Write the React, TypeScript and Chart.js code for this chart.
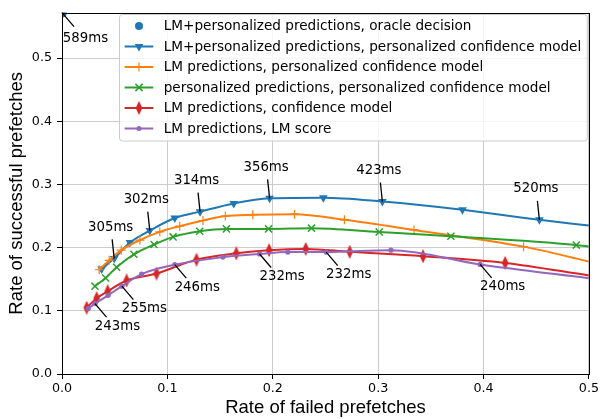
import React, { useEffect, useRef } from "react";
import { Chart, registerables } from "chart.js";
Chart.register(...registerables);

// ---------- data ----------
const seriesLabels = [
  "LM+personalized predictions, oracle decision",
  "LM+personalized predictions, personalized confidence model",
  "LM predictions, personalized confidence model",
  "personalized predictions, personalized confidence model",
  "LM predictions, confidence model",
  "LM predictions, LM score",
];

const oracleX = [0.0];
const oracleY = [0.572];

const blueX = [0.0376, 0.0495, 0.0644, 0.0833, 0.107, 0.131, 0.163, 0.197, 0.248, 0.304, 0.38, 0.453, 0.5];
const blueY = [0.166, 0.183, 0.208, 0.227, 0.247, 0.257, 0.27, 0.278, 0.279, 0.273, 0.26, 0.244, 0.235];

const orangeX = [0.0353, 0.0448, 0.0562, 0.0739, 0.0928, 0.1117, 0.1338, 0.155, 0.181, 0.2206, 0.268, 0.334, 0.438, 0.5];
const orangeY = [0.165, 0.18, 0.196, 0.212, 0.225, 0.234, 0.243, 0.25, 0.252, 0.253, 0.244, 0.228, 0.2016, 0.178];

const greenX = [0.0313, 0.0414, 0.0518, 0.0682, 0.0874, 0.1054, 0.1307, 0.156, 0.196, 0.2367, 0.301, 0.369, 0.488, 0.5];
const greenY = [0.139, 0.152, 0.169, 0.1895, 0.205, 0.217, 0.226, 0.2297, 0.2297, 0.2308, 0.2247, 0.218, 0.204, 0.2016];

const redX = [0.0234, 0.0329, 0.0433, 0.0613, 0.0897, 0.1276, 0.1654, 0.1965, 0.2313, 0.273, 0.3426, 0.4205, 0.5];
const redY = [0.105, 0.12, 0.131, 0.148, 0.159, 0.181, 0.191, 0.196, 0.198, 0.1934, 0.1864, 0.1758, 0.156];

const purpleX = [0.0249, 0.0313, 0.0438, 0.0568, 0.0755, 0.107, 0.1527, 0.1875, 0.2143, 0.2507, 0.3122, 0.3968, 0.5];
const purpleY = [0.1036, 0.1114, 0.1245, 0.139, 0.158, 0.173, 0.185, 0.19, 0.193, 0.193, 0.196, 0.1734, 0.1516];

const xTicks = [0, 0.1, 0.2, 0.3, 0.4, 0.5];
const yTicks = [0, 0.1, 0.2, 0.3, 0.4, 0.5];

const annotationLabels = ["589ms", "305ms", "302ms", "314ms", "356ms", "423ms", "520ms", "243ms", "255ms", "246ms", "232ms", "232ms", "240ms"];
const annotationSeries = [0, 1, 1, 1, 1, 1, 1, 5, 5, 5, 5, 5, 5];
const annotationIndex = [0, 1, 3, 5, 7, 9, 11, 1, 3, 5, 7, 9, 11];

// ---------- styles ----------
const COLORS = ["#1f77b4", "#1f77b4", "#ff7f0e", "#2ca02c", "#d62728", "#9467bd"];
const TICK_FONT = "DejaVu Sans";
const TITLE_FONT = "Liberation Sans";

// annotation layout: text-center offset from point, arrow-start offset from text center
const annotationLayout: Record<string, { dx: number; dy: number; ax: number; ay: number }> = {
  corner: { dx: 23.5, dy: 26, ax: -11.5, ay: -12 },
  above: { dx: -3.5, dy: -31, ax: 1.5, ay: 12 },
  below: { dx: 22.5, dy: 22.5, ax: -11, ay: -9 },
};
const layoutForSeries = (s: number) => (s === 0 ? "corner" : s === 1 ? "above" : "below");

function makeThinDiamond(color: string) {
  const c = document.createElement("canvas");
  c.width = 8;
  c.height = 14;
  const g = c.getContext("2d")!;
  g.fillStyle = color;
  g.beginPath();
  g.moveTo(4, 0);
  g.lineTo(7.3, 7);
  g.lineTo(4, 14);
  g.lineTo(0.7, 7);
  g.closePath();
  g.fill();
  return c;
}

function drawMarker(ctx: CanvasRenderingContext2D, kind: number, x: number, y: number, diamond: HTMLCanvasElement) {
  const col = COLORS[kind];
  ctx.save();
  ctx.fillStyle = col;
  ctx.strokeStyle = col;
  if (kind === 0) {
    ctx.beginPath();
    ctx.arc(x, y, 4, 0, Math.PI * 2);
    ctx.fill();
  } else if (kind === 1) {
    const r = 5;
    ctx.beginPath();
    ctx.moveTo(x, y + r);
    ctx.lineTo(x - r * 0.866, y - r * 0.5);
    ctx.lineTo(x + r * 0.866, y - r * 0.5);
    ctx.closePath();
    ctx.fill();
  } else if (kind === 2) {
    ctx.lineWidth = 1.2;
    ctx.beginPath();
    ctx.moveTo(x - 4.5, y);
    ctx.lineTo(x + 4.5, y);
    ctx.moveTo(x, y - 4.5);
    ctx.lineTo(x, y + 4.5);
    ctx.stroke();
  } else if (kind === 3) {
    ctx.lineWidth = 1.5;
    const d = 3.6;
    ctx.beginPath();
    ctx.moveTo(x - d, y - d);
    ctx.lineTo(x + d, y + d);
    ctx.moveTo(x - d, y + d);
    ctx.lineTo(x + d, y - d);
    ctx.stroke();
  } else if (kind === 4) {
    ctx.drawImage(diamond, x - diamond.width / 2, y - diamond.height / 2);
  } else {
    ctx.beginPath();
    ctx.arc(x, y, 2.5, 0, Math.PI * 2);
    ctx.fill();
  }
  ctx.restore();
}

export default function App() {
  const ref = useRef<HTMLCanvasElement | null>(null);

  useEffect(() => {
    if (!ref.current) return;
    const diamond = makeThinDiamond(COLORS[4]);
    const mk = (xs: number[], ys: number[]) => xs.map((x, i) => ({ x, y: ys[i] }));
    const lastZero = (r: number) => (c: any) => (c.dataIndex === c.dataset.data.length - 1 ? 0 : r);

    const allX = [oracleX, blueX, orangeX, greenX, redX, purpleX];
    const allY = [oracleY, blueY, orangeY, greenY, redY, purpleY];

    const overlay = {
      id: "overlay",
      afterDraw(chart: any) {
        const { ctx, chartArea: a, scales } = chart;
        const xs = scales.x;
        const ys = scales.y;
        ctx.save();
        // spines
        ctx.strokeStyle = "#000";
        ctx.lineWidth = 1;
        ctx.strokeRect(Math.round(a.left) + 0.5, Math.round(a.top) + 0.5, Math.round(a.right - a.left), Math.round(a.bottom - a.top));

        // annotations
        ctx.font = `13.3px "${TICK_FONT}"`;
        ctx.fillStyle = "#000";
        ctx.textAlign = "center";
        ctx.textBaseline = "middle";
        annotationLabels.forEach((lab, k) => {
          const s = annotationSeries[k];
          const i = annotationIndex[k];
          const px = xs.getPixelForValue(allX[s][i]);
          const py = ys.getPixelForValue(allY[s][i]);
          const L = annotationLayout[layoutForSeries(s)];
          const tx = px + L.dx;
          const ty = py + L.dy;
          ctx.fillText(lab, tx, ty);
          ctx.beginPath();
          ctx.lineWidth = 1.3;
          ctx.strokeStyle = "#000";
          ctx.moveTo(tx + L.ax, ty + L.ay);
          ctx.lineTo(px, py);
          ctx.stroke();
        });

        // legend
        const lx = 119.5, ly = 14.5;
        const textX = 163.7;
        ctx.font = `13.6px "${TICK_FONT}"`;
        let maxW = 0;
        seriesLabels.forEach((t) => (maxW = Math.max(maxW, ctx.measureText(t).width)));
        const w = textX + maxW + 6 - lx;
        const h = 126.5;
        ctx.beginPath();
        const r = 3;
        ctx.moveTo(lx + r, ly);
        ctx.arcTo(lx + w, ly, lx + w, ly + h, r);
        ctx.arcTo(lx + w, ly + h, lx, ly + h, r);
        ctx.arcTo(lx, ly + h, lx, ly, r);
        ctx.arcTo(lx, ly, lx + w, ly, r);
        ctx.closePath();
        ctx.fillStyle = "rgba(255,255,255,0.8)";
        ctx.fill();
        ctx.strokeStyle = "#cccccc";
        ctx.lineWidth = 1;
        ctx.stroke();
        seriesLabels.forEach((t, k) => {
          const y = 26 + k * 20.5;
          if (k > 0) {
            ctx.beginPath();
            ctx.strokeStyle = COLORS[k];
            ctx.lineWidth = 2;
            ctx.moveTo(124.6, y);
            ctx.lineTo(153.3, y);
            ctx.stroke();
          }
          drawMarker(ctx, k, 139, y, diamond);
          ctx.fillStyle = "#000";
          ctx.textAlign = "left";
          ctx.textBaseline = "middle";
          ctx.fillText(t, textX, y + 0.5);
        });
        ctx.restore();
      },
    };

    const lineCommon = {
      showLine: true,
      borderWidth: 2,
      cubicInterpolationMode: "monotone" as const,
    };

    const chart = new Chart(ref.current, {
      type: "scatter",
      data: {
        datasets: [
          {
            label: seriesLabels[0],
            data: mk(oracleX, oracleY),
            showLine: false,
            pointStyle: "circle",
            pointRadius: 5,
            backgroundColor: COLORS[0],
            borderColor: COLORS[0],
            borderWidth: 0,
            order: 6,
          },
          {
            ...lineCommon,
            label: seriesLabels[1],
            data: mk(blueX, blueY),
            borderColor: COLORS[1],
            backgroundColor: COLORS[1],
            pointStyle: "triangle",
            rotation: 180,
            pointRadius: lastZero(5),
            pointBorderWidth: 0,
            order: 5,
          },
          {
            ...lineCommon,
            label: seriesLabels[2],
            data: mk(orangeX, orangeY),
            borderColor: COLORS[2],
            backgroundColor: COLORS[2],
            pointStyle: "cross",
            pointRadius: lastZero(4.5),
            pointBorderWidth: 1.2,
            order: 4,
          },
          {
            ...lineCommon,
            label: seriesLabels[3],
            data: mk(greenX, greenY),
            borderColor: COLORS[3],
            backgroundColor: COLORS[3],
            pointStyle: "crossRot",
            pointRadius: lastZero(5),
            pointBorderWidth: 1.5,
            order: 3,
          },
          {
            ...lineCommon,
            label: seriesLabels[4],
            data: mk(redX, redY),
            borderColor: COLORS[4],
            backgroundColor: COLORS[4],
            pointStyle: diamond,
            pointRadius: lastZero(5),
            order: 2,
          },
          {
            ...lineCommon,
            label: seriesLabels[5],
            data: mk(purpleX, purpleY),
            borderColor: COLORS[5],
            backgroundColor: COLORS[5],
            pointStyle: "circle",
            pointRadius: lastZero(2.6),
            pointBorderWidth: 0,
            order: 1,
          },
        ] as any,
      },
      options: {
        animation: false,
        responsive: true,
        maintainAspectRatio: false,
        devicePixelRatio: 1,
        layout: { padding: { left: 0, top: 6, right: 11, bottom: 0 } },
        plugins: { legend: { display: false }, tooltip: { enabled: false } },
        events: [],
        scales: {
          x: {
            type: "linear",
            min: 0,
            max: 0.5,
            afterBuildTicks: (s: any) => {
              s.ticks = xTicks.map((v) => ({ value: v }));
            },
            afterFit: (s: any) => {
              s.height = 45;
            },
            ticks: {
              callback: (v: any) => Number(v).toFixed(1),
              font: { family: TICK_FONT, size: 12.7 },
              color: "#000",
              padding: 2,
              maxRotation: 0,
              includeBounds: false,
            },
            grid: { color: "#cccccc", lineWidth: 1, tickLength: 5, tickColor: "#000", drawTicks: true },
            border: { display: false },
            title: {
              display: true,
              text: "Rate of failed prefetches",
              font: { family: TITLE_FONT, size: 18.5 },
              color: "#000",
              padding: { top: 0, bottom: 0 },
            },
          },
          y: {
            type: "linear",
            min: 0,
            max: 0.572,
            afterBuildTicks: (s: any) => {
              s.ticks = yTicks.map((v) => ({ value: v }));
            },
            afterFit: (s: any) => {
              s.width = 62;
            },
            ticks: {
              callback: (v: any) => Number(v).toFixed(1),
              font: { family: TICK_FONT, size: 12.7 },
              color: "#000",
              padding: 5,
              includeBounds: false,
            },
            grid: { color: "#cccccc", lineWidth: 1, tickLength: 5, tickColor: "#000", drawTicks: true },
            border: { display: false },
            title: {
              display: true,
              text: "Rate of successful prefetches",
              font: { family: TITLE_FONT, size: 18.5 },
              color: "#000",
              padding: { top: 6, bottom: 0 },
            },
          },
        },
      },
      plugins: [overlay],
    } as any);

    return () => chart.destroy();
  }, []);

  return (
    <div style={{ position: "fixed", left: 0, top: 0, width: 601, height: 419, background: "#fff" }}>
      <canvas ref={ref} />
    </div>
  );
}
